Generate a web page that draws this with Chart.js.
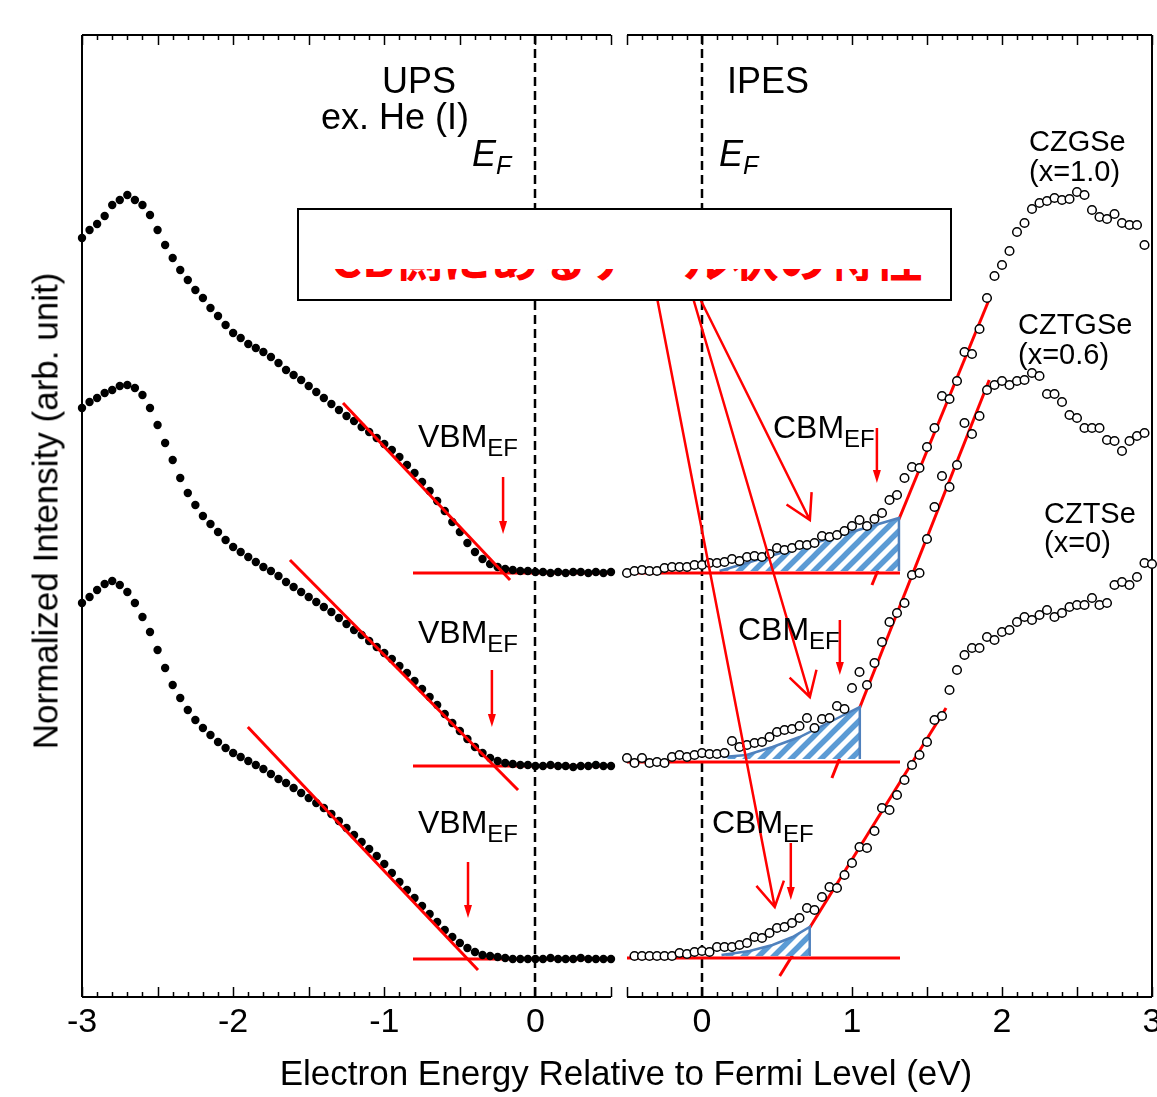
<!DOCTYPE html>
<html>
<head>
<meta charset="utf-8">
<script src="https://cdn.jsdelivr.net/npm/chart.js@4.4.1/dist/chart.umd.min.js"></script>
<style>
  html, body { margin: 0; padding: 0; background: #fff; }
  body { position: relative; width: 1157px; height: 1097px; overflow: hidden;
         font-family: "Liberation Sans", Arial, Helvetica, sans-serif; color: #000; }
  .wrap { position: absolute; top: 0; }
  .lbl { position: absolute; white-space: nowrap; line-height: 1; }
  .sb { position: relative; }
  #memo { position: absolute; left: 297px; top: 208px; width: 655px; height: 93px; box-sizing: border-box;
          border: 2.5px solid #000; background: #fff; overflow: hidden; }
  #memo .strip { position: absolute; left: 0; top: 58.5px; width: 100%; height: 12px; overflow: hidden; }
  #memo .txt { position: absolute; left: 31.5px; top: -37px; font: bold 48px/48px "Noto Sans CJK JP", sans-serif;
               color: #ff0000; white-space: nowrap; }
</style>
</head>
<body>
<div class="wrap" style="left:0"><canvas id="ups" width="640" height="1097"></canvas></div>
<div class="wrap" style="left:590px"><canvas id="ipes" width="600" height="1097"></canvas></div>

<div class="lbl" style="left:382px;top:63px;font-size:36px">UPS</div>
<div class="lbl" style="left:321px;top:99px;font-size:36px">ex. He (I)</div>
<div class="lbl" style="left:472px;top:136px;font-size:36px;font-style:italic">E<span class="sb" style="font-size:25px;top:8px">F</span></div>
<div class="lbl" style="left:727px;top:63px;font-size:36px">IPES</div>
<div class="lbl" style="left:719px;top:136px;font-size:36px;font-style:italic">E<span class="sb" style="font-size:25px;top:8px">F</span></div>

<div class="lbl" style="left:1029px;top:127px;font-size:29px">CZGSe</div>
<div class="lbl" style="left:1029px;top:157px;font-size:29px">(x=1.0)</div>
<div class="lbl" style="left:1018px;top:310px;font-size:29px">CZTGSe</div>
<div class="lbl" style="left:1018px;top:340px;font-size:29px">(x=0.6)</div>
<div class="lbl" style="left:1044px;top:499px;font-size:29px">CZTSe</div>
<div class="lbl" style="left:1044px;top:528px;font-size:29px">(x=0)</div>

<div class="lbl" style="left:418px;top:420px;font-size:32px">VBM<span class="sb" style="font-size:24px;top:9px">EF</span></div>
<div class="lbl" style="left:418px;top:616px;font-size:32px">VBM<span class="sb" style="font-size:24px;top:9px">EF</span></div>
<div class="lbl" style="left:418px;top:806px;font-size:32px">VBM<span class="sb" style="font-size:24px;top:9px">EF</span></div>
<div class="lbl" style="left:773px;top:411px;font-size:32px">CBM<span class="sb" style="font-size:24px;top:9px">EF</span></div>
<div class="lbl" style="left:738px;top:613px;font-size:32px">CBM<span class="sb" style="font-size:24px;top:9px">EF</span></div>
<div class="lbl" style="left:712px;top:806px;font-size:32px">CBM<span class="sb" style="font-size:24px;top:9px">EF</span></div>

<div class="lbl" style="left:626px;top:1055px;font-size:35px;transform:translateX(-50%)">Electron Energy Relative to Fermi Level (eV)</div>
<div class="lbl" style="left:45px;top:511px;font-size:35px;transform:translate(-50%,-50%) rotate(-90deg)">Normalized Intensity (arb. unit)</div>

<div id="memo"><div class="strip"><div class="txt">CB側にあるテール状の特性</div></div></div>

<script>
// UPS / IPES spectra of CZTGSe series, y in arbitrary units (0 = bottom of frame)
const FONT = '"Liberation Sans", Arial, Helvetica, sans-serif';
const RED = '#ff0000';

const upsEnergy = [-3.00, -2.95, -2.90, -2.85, -2.80, -2.75, -2.70, -2.65, -2.60, -2.55,
  -2.50, -2.45, -2.40, -2.35, -2.30, -2.25, -2.20, -2.15, -2.10, -2.05,
  -2.00, -1.95, -1.90, -1.85, -1.80, -1.75, -1.70, -1.65, -1.60, -1.55,
  -1.50, -1.45, -1.40, -1.35, -1.30, -1.25, -1.20, -1.15, -1.10, -1.05,
  -1.00, -0.95, -0.90, -0.85, -0.80, -0.75, -0.70, -0.65, -0.60, -0.55,
  -0.50, -0.45, -0.40, -0.35, -0.30, -0.25, -0.20, -0.15, -0.10, -0.05,
  0.00, 0.05, 0.10, 0.15, 0.20, 0.25, 0.30, 0.35, 0.40, 0.45, 0.50];

const upsCZGSe = [75.9, 76.7, 77.3, 78.1, 79.2, 79.7, 80.2, 79.7, 79.2, 78.2,
  76.7, 75.2, 73.9, 72.7, 71.7, 70.7, 69.9, 68.9, 68.1, 67.2,
  66.4, 65.9, 65.3, 64.9, 64.5, 64.0, 63.4, 62.7, 62.2, 61.7,
  61.1, 60.5, 59.9, 59.3, 58.7, 58.1, 57.6, 57.0, 56.5, 55.9,
  55.3, 54.7, 54.0, 53.2, 52.4, 51.5, 50.6, 49.6, 48.6, 47.5,
  46.5, 45.4, 44.5, 43.8, 43.3, 43.0, 42.8, 42.7, 42.6, 42.6,
  42.5, 42.5, 42.4, 42.5, 42.4, 42.5, 42.5, 42.4, 42.5, 42.4, 42.5];
const upsCZTGSe = [58.9, 59.5, 59.9, 60.4, 60.7, 61.1, 61.2, 60.9, 60.2, 58.9,
  57.2, 55.4, 53.7, 51.9, 50.4, 49.2, 48.1, 47.3, 46.5, 45.7,
  45.0, 44.5, 44.0, 43.5, 43.0, 42.6, 42.1, 41.5, 41.0, 40.5,
  40.0, 39.5, 39.0, 38.5, 37.9, 37.3, 36.7, 36.2, 35.6, 35.0,
  34.4, 33.8, 33.1, 32.4, 31.6, 30.8, 30.0, 29.2, 28.3, 27.4,
  26.6, 25.8, 25.0, 24.4, 23.9, 23.6, 23.4, 23.3, 23.2, 23.2,
  23.1, 23.1, 23.2, 23.1, 23.1, 23.0, 23.1, 23.1, 23.2, 23.1, 23.1];
const upsCZTSe = [39.4, 40.0, 40.7, 41.3, 41.6, 41.2, 40.5, 39.4, 38.0, 36.5,
  34.7, 32.9, 31.2, 29.9, 28.7, 27.7, 26.9, 26.2, 25.5, 24.9,
  24.4, 24.0, 23.6, 23.2, 22.8, 22.3, 21.8, 21.4, 20.9, 20.4,
  19.9, 19.4, 18.9, 18.3, 17.6, 16.9, 16.2, 15.5, 14.8, 14.1,
  13.3, 12.4, 11.5, 10.7, 9.9, 9.1, 8.3, 7.5, 6.7, 6.0,
  5.4, 4.9, 4.5, 4.2, 4.1, 4.0, 3.9, 3.8, 3.8, 3.8,
  3.8, 3.8, 3.9, 3.8, 3.8, 3.8, 3.9, 3.8, 3.8, 3.8, 3.8];

const ipesEnergy = [-0.50, -0.45, -0.40, -0.35, -0.30, -0.25, -0.20, -0.15, -0.10, -0.05,
  0.00, 0.05, 0.10, 0.15, 0.20, 0.25, 0.30, 0.35, 0.40, 0.45,
  0.50, 0.55, 0.60, 0.65, 0.70, 0.75, 0.80, 0.85, 0.90, 0.95,
  1.00, 1.05, 1.10, 1.15, 1.20, 1.25, 1.30, 1.35, 1.40, 1.45,
  1.50, 1.55, 1.60, 1.65, 1.70, 1.75, 1.80, 1.85, 1.90, 1.95,
  2.00, 2.05, 2.10, 2.15, 2.20, 2.25, 2.30, 2.35, 2.40, 2.45,
  2.50, 2.55, 2.60, 2.65, 2.70, 2.75, 2.80, 2.85, 2.90, 2.95, 3.00];

const ipesCZGSe = [42.4, 42.6, 42.7, 42.6, 42.6, 42.9, 43.0, 43.0, 43.0, 43.2,
  43.2, 43.4, 43.4, 43.5, 43.8, 43.6, 44.0, 44.1, 44.0, 44.3,
  44.9, 44.7, 44.9, 45.2, 45.2, 45.4, 46.1, 46.0, 46.2, 46.6,
  47.1, 47.7, 47.1, 47.8, 48.4, 49.7, 50.2, 51.9, 53.0, 52.9,
  55.0, 56.9, 60.1, 59.8, 61.6, 64.5, 64.3, 66.8, 69.9, 72.1,
  73.2, 74.6, 76.5, 77.4, 78.8, 79.4, 79.6, 79.9, 79.7, 79.8,
  80.5, 80.2, 78.7, 78.0, 77.8, 78.3, 77.4, 77.2, 77.2, 75.2, null];
const ipesCZTGSe = [23.9, 23.4, 23.9, 23.4, 23.5, 23.4, 24.0, 24.2, 24.0, 24.2,
  24.4, 24.3, 24.3, 24.4, 25.6, 25.0, 25.2, 25.4, 25.5, 26.0,
  26.5, 26.7, 26.8, 27.1, 27.9, 26.9, 27.8, 27.9, 29.1, 28.8,
  30.9, 32.5, 31.2, 33.4, 35.5, 37.5, 38.4, 39.4, 42.2, 42.4,
  45.8, 49.0, 52.1, 51.0, 53.2, 57.4, 56.3, 58.1, 60.7, 61.2,
  61.6, 61.2, 61.6, 61.7, 62.4, 62.1, 60.3, 60.3, 59.5, 58.2,
  57.9, 56.9, 56.9, 56.9, 55.7, 55.6, 54.6, 55.6, 56.1, 56.4, null];
const ipesCZTSe = [null, 4.1, 4.1, 4.1, 4.1, 4.1, 4.1, 4.4, 4.3, 4.5,
  4.6, 4.5, 5.0, 5.0, 5.0, 5.2, 5.4, 6.0, 5.9, 6.4,
  6.9, 7.0, 7.4, 7.9, 8.9, 8.7, 10.0, 11.0, 10.9, 12.2,
  13.4, 15.0, 14.9, 16.6, 18.9, 18.7, 20.2, 21.7, 23.2, 24.2,
  25.5, 27.7, 28.1, 30.7, 32.7, 34.2, 34.9, 34.9, 36.0, 35.7,
  36.5, 36.7, 37.5, 38.0, 37.7, 38.2, 38.7, 38.0, 38.4, 39.0,
  39.2, 39.2, 39.9, 39.2, 39.4, 41.2, 41.5, 41.2, 42.0, 43.4, 43.3];

// axis tick labels
const upsTicks = [-3, -2, -1, 0];
const ipesTicks = [0, 1, 2, 3];
const minorStep = 0.1;
const majorStep = 0.5;

// linear fits (onset extrapolation) and background levels, [energy, intensity]
const upsFits = [[[-1.273, 59.4], [-0.168, 41.7]], [[-1.624, 43.7], [-0.115, 20.7]], [[-1.903, 27.0], [-0.380, 2.7]]];
const upsBase = [42.4, 23.1, 3.8];
const upsBaseRange = [-0.81, 0.5];
const ipesFits = [[[1.133, 41.2], [1.921, 70.0]], [[0.866, 21.9], [1.915, 61.7]], [[0.518, 2.1], [1.627, 28.9]]];
const ipesBase = [42.4, 23.5, 3.9];
const ipesBaseRange = [-0.5, 1.32];

// VBM / CBM markers: [energy, from, to]
const vbmMarks = [[-0.214, 52.0, 46.3], [-0.288, 32.7, 27.0], [-0.446, 13.5, 7.9]];
const cbmMarks = [[1.166, 56.9, 51.4], [0.919, 37.7, 32.2], [0.592, 15.4, 9.7]];
// arrows from the note box to the tail regions
const tailArrows = [[[-0.009, 69.7], [0.719, 47.7]], [[-0.056, 69.7], [0.719, 30.0]], [[-0.297, 69.7], [0.485, 9.0]]];
// hatched tail-state regions (outline, closed on the last point's level)
const tailAreas = [
  [[0.117, 42.6], [1.313, 47.9], [1.313, 42.6]],
  [[0.137, 24.0], [0.297, 24.2], [0.470, 25.0], [0.651, 26.0], [0.852, 27.5], [1.052, 29.0], [1.052, 23.8]],
  [[0.130, 4.2], [0.317, 4.6], [0.470, 5.2], [0.604, 6.0], [0.718, 7.0], [0.718, 4.1]]
];

const pts = (xs, ys) => xs.map((x, i) => ({ x: x, y: ys[i] })).filter(p => p.y !== null);
const seg = (pairs, order) => ({
  data: pairs.map(([x, y]) => ({ x: x, y: y })),
  borderColor: RED, borderWidth: 3, pointRadius: 0, fill: false, tension: 0, order: order
});

function xScale(min, max, tickValues) {
  return {
    type: 'linear', min: min, max: max,
    grid: { display: false, drawTicks: false },
    border: { display: false },
    afterBuildTicks: s => { s.ticks = tickValues.map(v => ({ value: v })); },
    afterFit: s => { s.height = 100; },
    ticks: { padding: 5, color: '#000', font: { family: FONT, size: 34 }, maxRotation: 0, autoSkip: false,
             callback: v => String(v) }
  };
}

function framePlugin(side) {
  return {
    id: 'frame',
    beforeDatasetsDraw(chart) {
      const ctx = chart.ctx, a = chart.chartArea, x = chart.scales.x;
      ctx.save();
      ctx.strokeStyle = '#000';
      ctx.lineWidth = 2;
      ctx.beginPath();
      ctx.moveTo(a.left, a.top); ctx.lineTo(a.right, a.top);
      ctx.moveTo(a.left, a.bottom); ctx.lineTo(a.right, a.bottom);
      const edge = side === 'left' ? a.left : a.right;
      ctx.moveTo(edge, a.top); ctx.lineTo(edge, a.bottom);
      ctx.stroke();
      // inward ticks, top and bottom
      ctx.lineWidth = 1.5;
      ctx.beginPath();
      const n = Math.round((x.max - x.min) / minorStep);
      for (let i = 0; i <= n; i++) {
        const v = x.min + i * minorStep;
        const px = Math.round(x.getPixelForValue(v)) + 0.5;
        const major = Math.abs(v / majorStep - Math.round(v / majorStep)) < 1e-6;
        const len = major ? 10 : 5;
        ctx.moveTo(px, a.top); ctx.lineTo(px, a.top + len);
        ctx.moveTo(px, a.bottom); ctx.lineTo(px, a.bottom - len);
      }
      ctx.stroke();
      // Fermi level
      const zx = Math.round(x.getPixelForValue(0));
      ctx.setLineDash([9, 5]);
      ctx.lineWidth = 2.5;
      ctx.beginPath(); ctx.moveTo(zx, a.top); ctx.lineTo(zx, a.bottom); ctx.stroke();
      ctx.restore();
    }
  };
}

function arrowPlugin(marks, pointers) {
  return {
    id: 'arrows',
    afterDatasetsDraw(chart) {
      const ctx = chart.ctx, x = chart.scales.x, y = chart.scales.y;
      ctx.save();
      ctx.strokeStyle = RED; ctx.fillStyle = RED; ctx.lineWidth = 2.5;
      marks.forEach(([e, v0, v1]) => {
        const px = x.getPixelForValue(e), p0 = y.getPixelForValue(v0), p1 = y.getPixelForValue(v1);
        ctx.beginPath(); ctx.moveTo(px, p0); ctx.lineTo(px, p1 - 8); ctx.stroke();
        ctx.beginPath(); ctx.moveTo(px, p1); ctx.lineTo(px - 4, p1 - 13); ctx.lineTo(px + 4, p1 - 13); ctx.closePath(); ctx.fill();
      });
      pointers.forEach(([[e0, v0], [e1, v1]]) => {
        const x0 = x.getPixelForValue(e0), y0 = y.getPixelForValue(v0);
        const x1 = x.getPixelForValue(e1), y1 = y.getPixelForValue(v1);
        const ang = Math.atan2(y1 - y0, x1 - x0), L = 28, h = Math.PI / 6;
        ctx.beginPath();
        ctx.moveTo(x0, y0); ctx.lineTo(x1, y1);
        ctx.moveTo(x1 - L * Math.cos(ang - h), y1 - L * Math.sin(ang - h));
        ctx.lineTo(x1, y1);
        ctx.lineTo(x1 - L * Math.cos(ang + h), y1 - L * Math.sin(ang + h));
        ctx.stroke();
      });
      ctx.restore();
    }
  };
}

const yScale = { type: 'linear', min: 0, max: 96.2, display: false };
const common = {
  responsive: false, animation: false, events: [],
  plugins: { legend: { display: false }, tooltip: { enabled: false } }
};

// ---- UPS panel ----
const upsDots = [upsCZGSe, upsCZTGSe, upsCZTSe].map(vals => ({
  data: pts(upsEnergy, vals), showLine: false, pointRadius: 4.2, pointBackgroundColor: '#000',
  pointBorderWidth: 0, order: 3, clip: 6
}));
new Chart(document.getElementById('ups'), {
  type: 'line',
  data: {
    datasets: [
      ...upsFits.map(f => seg(f, 1)),
      ...upsDots,
      ...upsBase.map(b => seg([[upsBaseRange[0], b], [upsBaseRange[1], b]], 5))
    ]
  },
  options: Object.assign({}, common, {
    layout: { padding: { left: 82, right: 29, top: 35, bottom: 0 } },
    scales: { x: xScale(-3, 0.5, upsTicks), y: yScale }
  }),
  plugins: [framePlugin('left'), arrowPlugin(vbmMarks, [])]
});

// ---- IPES panel ----
const ipesCanvas = document.getElementById('ipes');
function makeHatch(ctx) {
  const c = document.createElement('canvas');
  c.width = 15; c.height = 15;
  const g = c.getContext('2d');
  g.fillStyle = '#fff'; g.fillRect(0, 0, 15, 15);
  g.strokeStyle = '#5b9bd5'; g.lineWidth = 5.5;
  g.beginPath();
  g.moveTo(-7.5, 7.5); g.lineTo(7.5, -7.5);
  g.moveTo(0, 15); g.lineTo(15, 0);
  g.moveTo(7.5, 22.5); g.lineTo(22.5, 7.5);
  g.stroke();
  return ctx.createPattern(c, 'repeat');
}
const hatch = makeHatch(ipesCanvas.getContext('2d'));

const ipesCircles = [ipesCZGSe, ipesCZTGSe, ipesCZTSe].map(vals => ({
  data: pts(ipesEnergy, vals), showLine: false, pointRadius: 4.3, pointBackgroundColor: '#fff',
  pointBorderColor: '#000', pointBorderWidth: 1.5, order: 1, clip: 6
}));
const tailSets = tailAreas.map(area => ({
  data: area.map(([x, y]) => ({ x: x, y: y })),
  borderColor: '#4f81bd', borderWidth: 2.5, pointRadius: 0, tension: 0,
  backgroundColor: hatch, fill: { value: area[area.length - 1][1] }, order: 3
}));
new Chart(ipesCanvas, {
  type: 'line',
  data: {
    datasets: [
      ...ipesCircles,
      ...ipesBase.map(b => seg([[ipesBaseRange[0], b], [ipesBaseRange[1], b]], 2)),
      ...tailSets,
      ...ipesFits.map(f => seg(f, 4))
    ]
  },
  options: Object.assign({}, common, {
    layout: { padding: { left: 37, right: 38, top: 35, bottom: 0 } },
    scales: { x: xScale(-0.5, 3, ipesTicks), y: yScale }
  }),
  plugins: [framePlugin('right'), arrowPlugin(cbmMarks, tailArrows)]
});
</script>
</body>
</html>
